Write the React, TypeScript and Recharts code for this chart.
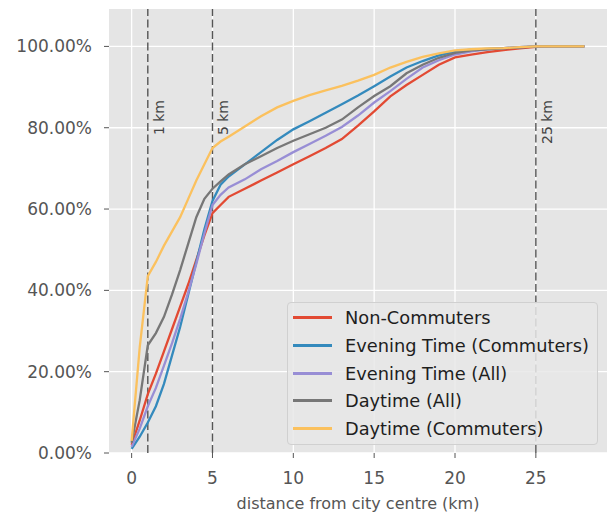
import { LineChart, Line, XAxis, YAxis, CartesianGrid, ReferenceLine } from "recharts";

const distances = [0, 0.5, 1, 1.5, 2, 2.5, 3, 3.5, 4, 4.5, 5, 5.5, 6, 7, 8, 9, 10, 11, 12, 13, 14, 15, 16, 17, 18, 19, 20, 21, 22, 23, 24, 25, 26, 27, 28];

const nonCommuters = [2, 8, 14.5, 19.5, 25, 30.5, 36, 41.5, 47.5, 53.5, 59, 61, 63, 65, 67, 69, 71, 73, 75, 77.2, 80.5, 84, 87.7, 90.5, 93, 95.5, 97.3, 98, 98.6, 99.1, 99.5, 99.9, 100, 100, 100];
const eveningCommuters = [1, 4, 7.5, 11.5, 17, 24, 31, 39, 47, 55, 62, 66, 68, 71, 74, 77, 79.6, 81.6, 83.7, 85.8, 87.9, 90.2, 92.6, 94.8, 96.4, 97.8, 98.8, 99.2, 99.4, 99.6, 99.8, 100, 100, 100, 100];
const eveningAll = [1.5, 6, 11.5, 16, 21.5, 27, 33, 39.5, 46.5, 54, 61, 63.5, 65.3, 67.3, 69.8, 71.8, 74, 76, 78, 80.2, 83, 86.2, 89, 92, 94.8, 96.6, 98, 98.8, 99.3, 99.6, 99.8, 100, 100, 100, 100];
const daytimeAll = [2.5, 13, 26.5, 29.5, 33.5, 39, 45, 51.5, 58, 62.5, 65, 66.8, 68.5, 71, 73, 75, 76.8, 78.4, 80, 82, 85, 87.8, 90.2, 93.4, 95.5, 97.2, 98.4, 99, 99.3, 99.5, 99.7, 100, 100, 100, 100];
const daytimeCommuters = [3, 26, 43.5, 47, 51, 54.5, 58, 62.5, 67, 71, 75, 76.6, 77.8, 80.3, 82.8, 85, 86.6, 88, 89.2, 90.3, 91.6, 93, 94.8, 96.2, 97.4, 98.3, 99, 99.3, 99.5, 99.6, 99.8, 100, 100, 100, 100];

const xTicks = [0, 5, 10, 15, 20, 25];
const yTicks = [0, 20, 40, 60, 80, 100];
const markers = [
  { km: 1, text: "1 km" },
  { km: 5, text: "5 km" },
  { km: 25, text: "25 km" },
];

const seriesList = [
  { key: "nc", name: "Non-Commuters", color: "#E24A33", values: nonCommuters },
  { key: "ec", name: "Evening Time (Commuters)", color: "#348ABD", values: eveningCommuters },
  { key: "ea", name: "Evening Time (All)", color: "#988ED5", values: eveningAll },
  { key: "da", name: "Daytime (All)", color: "#777777", values: daytimeAll },
  { key: "dc", name: "Daytime (Commuters)", color: "#FBC15E", values: daytimeCommuters },
];

const rows = distances.map((d, i) => {
  const row: Record<string, number> = { d };
  seriesList.forEach((s) => (row[s.key] = s.values[i]));
  return row;
});

const FONT = "DejaVu Sans, sans-serif";

function MarkerLabel({ viewBox, text }: any) {
  if (!viewBox) return null;
  const x = viewBox.x + 16;
  const y = 100;
  return (
    <text
      x={x}
      y={y}
      transform={`rotate(-90 ${x} ${y})`}
      textAnchor="end"
      fontSize={14}
      fontFamily={FONT}
      fill="#444"
    >
      {text}
    </text>
  );
}

function LegendBox() {
  return (
    <div
      style={{
        position: "absolute",
        left: 287,
        top: 302,
        width: 311,
        height: 143,
        boxSizing: "border-box",
        background: "rgba(232,232,232,0.85)",
        border: "1px solid #d0d0d0",
        borderRadius: 4,
        paddingTop: 1,
        fontFamily: FONT,
      }}
    >
      {seriesList.map((s) => (
        <div key={s.key} style={{ height: 27.7, display: "flex", alignItems: "center" }}>
          <div style={{ marginLeft: 5, width: 39, height: 3, background: s.color }} />
          <span style={{ marginLeft: 13, fontSize: 17.8, color: "#1e1e1e", whiteSpace: "nowrap" }}>{s.name}</span>
        </div>
      ))}
    </div>
  );
}

export default function App() {
  return (
    <div style={{ position: "absolute", left: 0, top: 0, width: 610, height: 514, background: "#fff" }}>
      <LineChart width={610} height={514} data={rows} margin={{ top: 9, right: 3, bottom: 0, left: 0 }}>
        <CartesianGrid fill="#E5E5E5" stroke="#ffffff" strokeWidth={1.3} horizontalValues={yTicks} verticalValues={xTicks} />
        <XAxis
          dataKey="d"
          type="number"
          domain={[-1.4, 29.4]}
          ticks={xTicks}
          allowDataOverflow
          height={61}
          axisLine={false}
          tickSize={5}
          tickMargin={14}
          tickLine={{ stroke: "#555" }}
          tick={{ fill: "#555", fontSize: 17, fontFamily: FONT }}
          label={{ value: "distance from city centre (km)", position: "insideBottom", offset: 5, fill: "#555", fontSize: 16, fontFamily: FONT }}
        />
        <YAxis
          type="number"
          domain={[0, 109.2]}
          ticks={yTicks}
          allowDataOverflow
          width={109}
          axisLine={false}
          tickSize={5}
          tickMargin={12}
          tickLine={{ stroke: "#555" }}
          tick={{ fill: "#555", fontSize: 17, fontFamily: FONT }}
          tickFormatter={(v: number) => `${v.toFixed(2)}%`}
        />
        {markers.map((m) => (
          <ReferenceLine
            key={m.km}
            x={m.km}
            stroke="#555"
            strokeWidth={1.4}
            strokeDasharray="8 3.5"
            label={<MarkerLabel text={m.text} />}
          />
        ))}
        {seriesList.map((s) => (
          <Line
            key={s.key}
            dataKey={s.key}
            name={s.name}
            stroke={s.color}
            strokeWidth={2.3}
            dot={false}
            type="linear"
            isAnimationActive={false}
          />
        ))}
      </LineChart>
      <LegendBox />
    </div>
  );
}
